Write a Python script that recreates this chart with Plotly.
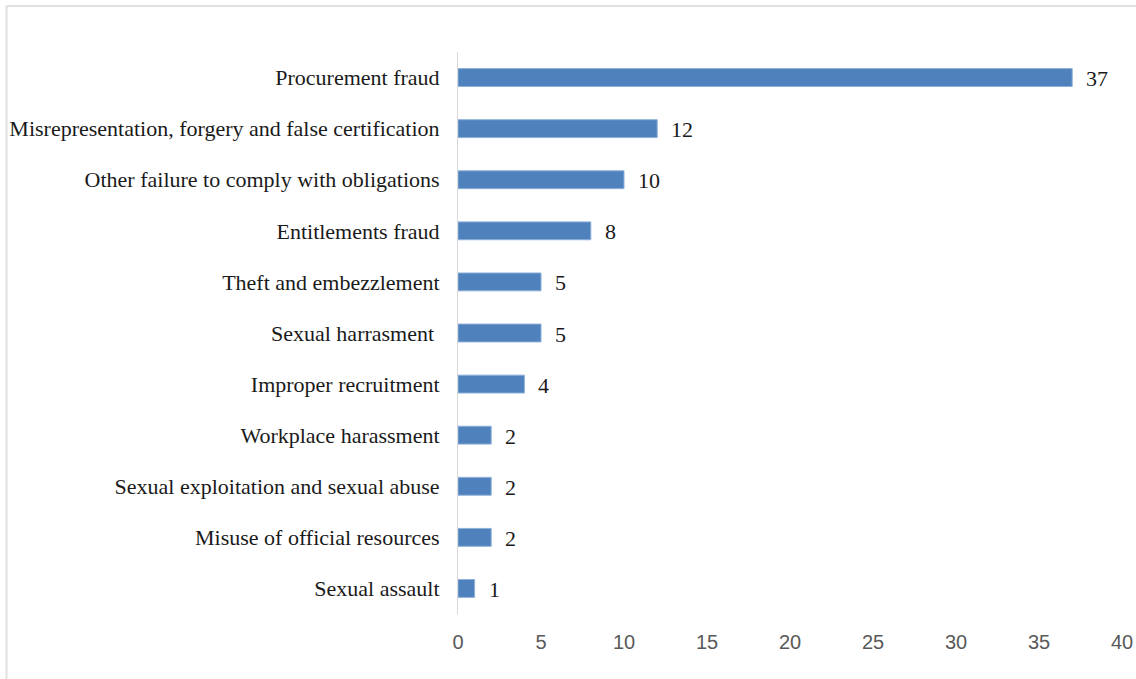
import plotly.graph_objects as go

# Misconduct categories (top to bottom) and number of cases
categories = [
    "Procurement fraud",
    "Misrepresentation, forgery and false certification",
    "Other failure to comply with obligations",
    "Entitlements fraud",
    "Theft and embezzlement",
    "Sexual harrasment\u00a0",
    "Improper recruitment",
    "Workplace harassment",
    "Sexual exploitation and sexual abuse",
    "Misuse of official resources",
    "Sexual assault",
]
cases = [37, 12, 10, 8, 5, 5, 4, 2, 2, 2, 1]
x_ticks = [0, 5, 10, 15, 20, 25, 30, 35, 40]

serif = "Liberation Serif, Times New Roman, serif"
sans = "Liberation Sans, Arial, sans-serif"

# plotly draws horizontal bars bottom-up, so reverse the order
cats_plot = categories[::-1]
vals_plot = cases[::-1]

fig = go.Figure()
fig.add_trace(go.Bar(
    x=vals_plot,
    y=cats_plot,
    orientation="h",
    marker=dict(color="#4F81BD", line=dict(color="#8EB0DA", width=1)),
    width=0.35,
    hoverinfo="x+y",
))

# value labels to the right of each bar
for c, v in zip(cats_plot, vals_plot):
    fig.add_annotation(
        x=v, y=c, xref="x", yref="y",
        text=str(v), showarrow=False,
        xanchor="left", yanchor="middle", xshift=12, yshift=-1,
        font=dict(family=serif, size=22, color="#1a1a1a"),
    )

# thin light frame along the top and left of the chart area
fig.add_shape(type="line", xref="paper", yref="paper",
              x0=-0.680, x1=1.1, y0=1.0819, y1=1.0819,
              line=dict(color="#E0E0E0", width=2))
fig.add_shape(type="line", xref="paper", yref="paper",
              x0=-0.680, x1=-0.680, y0=-0.2, y1=1.0819,
              line=dict(color="#E0E0E0", width=2))

fig.update_layout(
    width=1136, height=679,
    margin=dict(l=458, r=14, t=52, b=65, autoexpand=False),
    paper_bgcolor="white",
    plot_bgcolor="white",
    showlegend=False,
    xaxis=dict(
        range=[0, 40],
        tickvals=x_ticks,
        showgrid=False,
        zeroline=False,
        showline=False,
        ticks="",
        automargin=False,
        tickfont=dict(family=sans, size=20, color="#595959"),
        ticklabelstandoff=14,
        fixedrange=True,
    ),
    yaxis=dict(
        categoryorder="array",
        categoryarray=cats_plot,
        range=[-0.5, len(categories) - 0.5],
        showgrid=False,
        zeroline=False,
        showline=True,
        linecolor="#D9D9D9",
        linewidth=1,
        ticks="",
        automargin=False,
        ticklabelstandoff=13,
        tickfont=dict(family=serif, size=22, color="#1a1a1a"),
        fixedrange=True,
    ),
)

fig.write_html("out.html")
